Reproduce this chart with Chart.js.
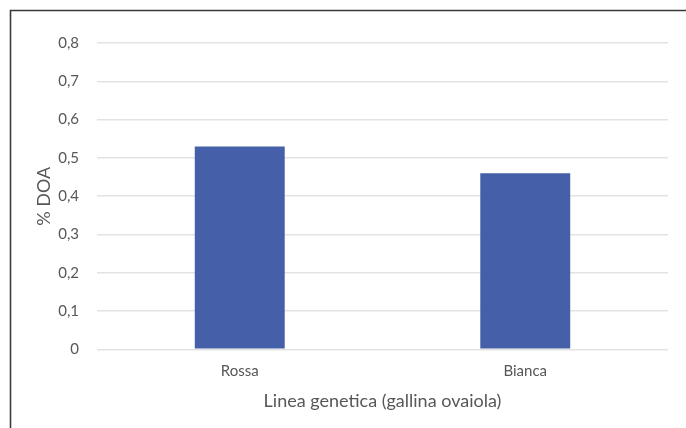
<!DOCTYPE html>
<html>
<head>
<meta charset="utf-8">
<script src="https://cdn.jsdelivr.net/npm/chart.js@4/dist/chart.umd.min.js"></script>
<style>
  html, body { margin: 0; padding: 0; background: #ffffff; }
  #wrap { position: relative; width: 686px; height: 428px; }
</style>
</head>
<body>
<div id="wrap"><canvas id="c" width="686" height="428"></canvas></div>
<script>
// Categories and values
const categories = ['Rossa', 'Bianca'];
const doaValues = [0.53, 0.46];
const yTicks = [0, 0.1, 0.2, 0.3, 0.4, 0.5, 0.6, 0.7, 0.8];

const fontFamily = 'Lato, "Open Sans", sans-serif';
const textColor = '#575757';

// Dark frame on the top and left edges
const framePlugin = {
  id: 'frame',
  beforeDraw(chart) {
    const ctx = chart.ctx;
    ctx.save();
    ctx.strokeStyle = '#3a3a3a';
    ctx.lineWidth = 1.6;
    ctx.beginPath();
    ctx.moveTo(10.5, 428);
    ctx.lineTo(10.5, 10.5);
    ctx.lineTo(686, 10.5);
    ctx.stroke();
    ctx.restore();
  }
};

new Chart(document.getElementById('c'), {
  type: 'bar',
  data: {
    labels: categories,
    datasets: [{
      data: doaValues,
      backgroundColor: '#4560a8',
      borderWidth: 0,
      barPercentage: 0.315,
      categoryPercentage: 1.0
    }]
  },
  options: {
    responsive: false,
    animation: false,
    devicePixelRatio: 1,
    layout: { padding: { left: 33, right: 18, top: 43, bottom: 16 } },
    plugins: { legend: { display: false }, tooltip: { enabled: false } },
    scales: {
      x: {
        afterFit(axis) { axis.height -= 3; },
        grid: { display: false, drawTicks: false },
        border: { display: false },
        ticks: { color: textColor, font: { family: fontFamily, size: 15 }, padding: 13 },
        title: {
          display: true,
          text: 'Linea genetica (gallina ovaiola)',
          color: textColor,
          font: { family: fontFamily, size: 18 },
          padding: { top: 0, bottom: 0 }
        }
      },
      y: {
        min: 0,
        max: 0.8,
        afterBuildTicks(axis) { axis.ticks = yTicks.map(v => ({ value: v })); },
        afterFit(axis) { axis.width = 64; },
        grid: { color: '#e3e3e3', lineWidth: 1.6, drawTicks: false },
        border: { display: false },
        ticks: {
          color: textColor,
          font: { family: fontFamily, size: 15 },
          padding: 18,
          callback: v => String(Math.round(v * 10) / 10).replace('.', ',')
        },
        title: {
          display: true,
          text: '% DOA',
          color: textColor,
          font: { family: fontFamily, size: 18 },
          padding: { top: 0, bottom: 4 }
        }
      }
    }
  },
  plugins: [framePlugin]
});
</script>
</body>
</html>
